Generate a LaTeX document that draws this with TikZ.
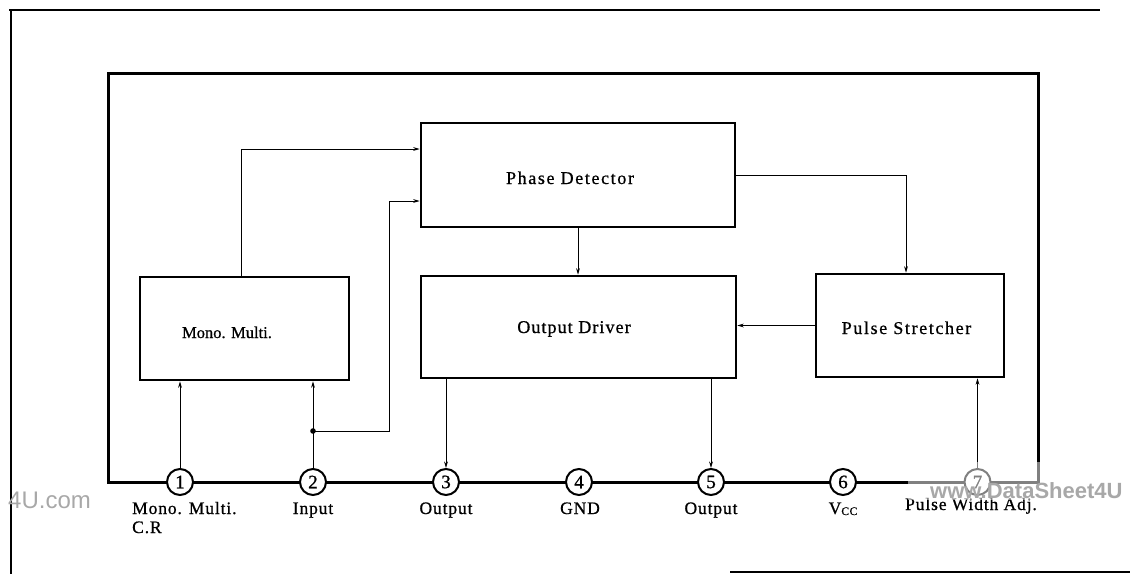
\documentclass[tikz,border=0pt]{standalone}
\usepackage{fontspec}
\setmainfont{Liberation Serif}[FakeBold=0.8]
\newfontfamily\blkfont[LetterSpace=9,FakeBold=0.8]{Liberation Serif}
\newfontfamily\odfont[LetterSpace=6,FakeBold=0.8]{Liberation Serif}
\newfontfamily\pinfont[LetterSpace=5,FakeBold=0.8]{Liberation Serif}
\newfontfamily\digfont[FakeBold=1]{Liberation Serif}
\newfontfamily\wmfont{Liberation Sans}
\usetikzlibrary{arrows.meta,calc}
\definecolor{wm}{gray}{0.66}
\begin{document}
\begin{tikzpicture}[x=1pt,y=-1pt,
  blk/.style={draw, line width=2.6pt, inner sep=0pt},
  blktext/.style={font=\blkfont\fontsize{18}{20}\selectfont, anchor=base, inner sep=0pt},
  mmtext/.style={font=\fontsize{16.5}{18}\selectfont, anchor=base, inner sep=0pt},
  pinlbl/.style={font=\pinfont\fontsize{17.5}{19}\selectfont, anchor=base, inner sep=0pt},
  pin/.style={circle, draw, line width=2pt, fill=white, minimum size=26pt, inner sep=0pt, font=\digfont\fontsize{19}{19}\selectfont},
  arr/.style={line width=0.9pt, -{Stealth[length=6.5pt,width=3.8pt]}},
  frame/.style={line width=3pt},
  page/.style={line width=1.4pt}]
\useasboundingbox (0,0) rectangle (1130,574);
% page frame
\draw[page] (9,10) -- (1100,10);
\draw[page] (11,10) -- (11,574);
\draw[page] (730,572) -- (1130,572);
% inner frame with pin line
\draw[frame] (108,73) rectangle (1038,482);
% blocks
\node[blk, minimum width=209pt, minimum height=103pt] (mm) at (244.5,328.5) {};
\node[blk, minimum width=314pt, minimum height=104pt] (pd) at (578,175) {};
\node[blk, minimum width=315pt, minimum height=102pt] (od) at (578.5,327) {};
\node[blk, minimum width=188pt, minimum height=103pt] (ps) at (910,325.5) {};
\node[mmtext] (mmt) at (227,338) {Mono. Multi.};
\node[blktext] (pdt) at (570,184) {Phase Detector};
\node[blktext, font=\odfont\fontsize{18}{20}\selectfont] (odt) at (574,333) {Output Driver};
\node[blktext] (pst) at (906.5,334) {Pulse Stretcher};
% pins
\node[pin] (p1) at (180,482) {1};
\node[pin] (p2) at (313,482) {2};
\node[pin] (p3) at (446,482) {3};
\node[pin] (p4) at (579,482) {4};
\node[pin] (p5) at (711,482) {5};
\node[pin] (p6) at (843,482) {6};
\node[pin] (p7) at (977.5,482) {7};
% pin labels
\node[pinlbl, anchor=base west] (l1) at (132,514) {Mono. Multi.};
\node[pinlbl, anchor=base west] (l1b) at (132,533) {C.R};
\node[pinlbl] (l2) at (313,514) {Input};
\node[pinlbl] (l3) at (446,514) {Output};
\node[pinlbl] (l4) at (580,514) {GND};
\node[pinlbl] (l5) at (711,514) {Output};
\node[pinlbl] (l6) at (843,514) {V\raisebox{-1pt}{\fontsize{11.5}{12}\selectfont CC}};
\node[pinlbl] (l7) at (971,510) {Pulse Width Adj.};
% connectors
\draw[arr] ([xshift=-3pt]mm.north) |- ([yshift=26pt]pd.west);
\draw[arr] (p1.north) -- (p1.north |- mm.south);
\draw[arr] (p2.north) -- (p2.north |- mm.south);
\coordinate (j) at (313,431);
\fill (j) circle (2.8pt);
\draw[arr] (j) -- ++(76,0) |- ([yshift=-26pt]pd.west);
\draw[arr] (pd.south) -- (pd.south |- od.north);
\draw[arr] (pd.east) -| ([xshift=-4pt]ps.north);
\draw[arr] (ps.west) -- (ps.west -| od.east);
\draw[arr] (od.south -| p3.north) -- (p3.north);
\draw[arr] (od.south -| p5.north) -- (p5.north);
\draw[arr] (p7.north) -- (p7.north |- ps.south);
% watermark
\fill[white, opacity=0.5] (908,462) rectangle (1130,500);
\node[font=\wmfont\fontsize{24}{24}\selectfont, text=wm, anchor=base west, inner sep=0pt] (wm1) at (8,508) {4U.com};
\node[font=\wmfont\bfseries\fontsize{22}{22}\selectfont, text=wm, anchor=base west, inner sep=0pt] (wm2) at (930,498) {www.DataSheet4U};
\end{tikzpicture}
\end{document}
